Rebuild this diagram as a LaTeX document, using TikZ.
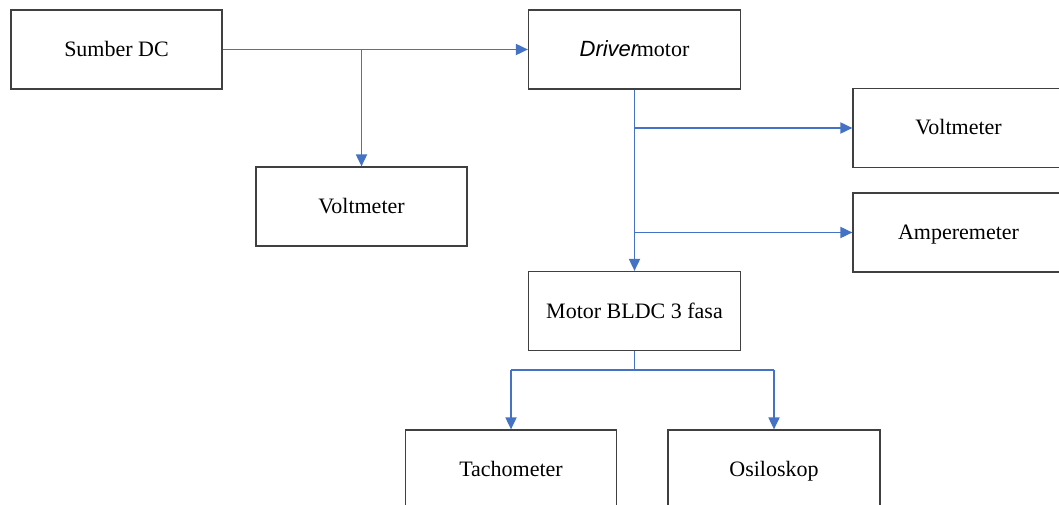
\documentclass[tikz,border=0pt]{standalone}
\usepackage{fontspec}
\setmainfont{Liberation Serif}
\setsansfont{Liberation Sans}
\usetikzlibrary{arrows.meta}
\definecolor{lineblue}{HTML}{4472C4}
\definecolor{boxgray}{HTML}{404040}
\begin{document}
\begin{tikzpicture}[x=1pt,y=-1pt,
  blk/.style={draw=boxgray, line width=1.2pt, minimum width=211pt, minimum height=79pt,
    inner sep=0pt, text height=18pt, text depth=4pt, font=\fontsize{22}{26}\selectfont},
  wire/.style={draw=lineblue, line width=1.8pt},
  arr/.style={wire, -{Triangle[length=12pt,width=11pt]}}]
\useasboundingbox (0,0) rectangle (1059,505);
\clip (0,0) rectangle (1059,505);
\fill[white] (0,0) rectangle (1059,505);
% boxes
\node[blk] (src) at (116.5,49.5) {Sumber DC};
\node[blk] (vm1) at (361.5,206.5) {Voltmeter};
\node[blk, minimum width=212pt] (drv) at (634.5,49.5) {{\sffamily\itshape Driver}\hspace{-1.5pt}motor};
\node[blk] (vm2) at (958.5,128) {Voltmeter};
\node[blk] (amp) at (958.5,232.5) {Amperemeter};
\node[blk, minimum width=212pt] (mot) at (634.5,311) {Motor BLDC 3 fasa};
\node[blk] (tach) at (511,469.5) {Tachometer};
\node[blk, minimum width=212pt] (osc) at (774,469.5) {Osiloskop};
% junctions
\coordinate (j1) at (vm1.north |- src.east);
\coordinate (j2) at (drv.south |- vm2.west);
\coordinate (j3) at (drv.south |- amp.west);
\coordinate (j4) at (634.5,370);
\coordinate (j5) at (tach.north |- j4);
\coordinate (j6) at (osc.north |- j4);
% connectors
\draw[arr] (src.east) -- (drv.west);
\draw[arr] (j1) -- (vm1.north);
\draw[arr] (drv.south) -- (mot.north);
\draw[arr] (j2) -- (vm2.west);
\draw[arr] (j3) -- (amp.west);
\draw[wire] (mot.south) -- (j4);
\draw[wire] (j5) -- (j6);
\draw[arr] (j5) -- (tach.north);
\draw[arr] (j6) -- (osc.north);
\end{tikzpicture}
\end{document}
